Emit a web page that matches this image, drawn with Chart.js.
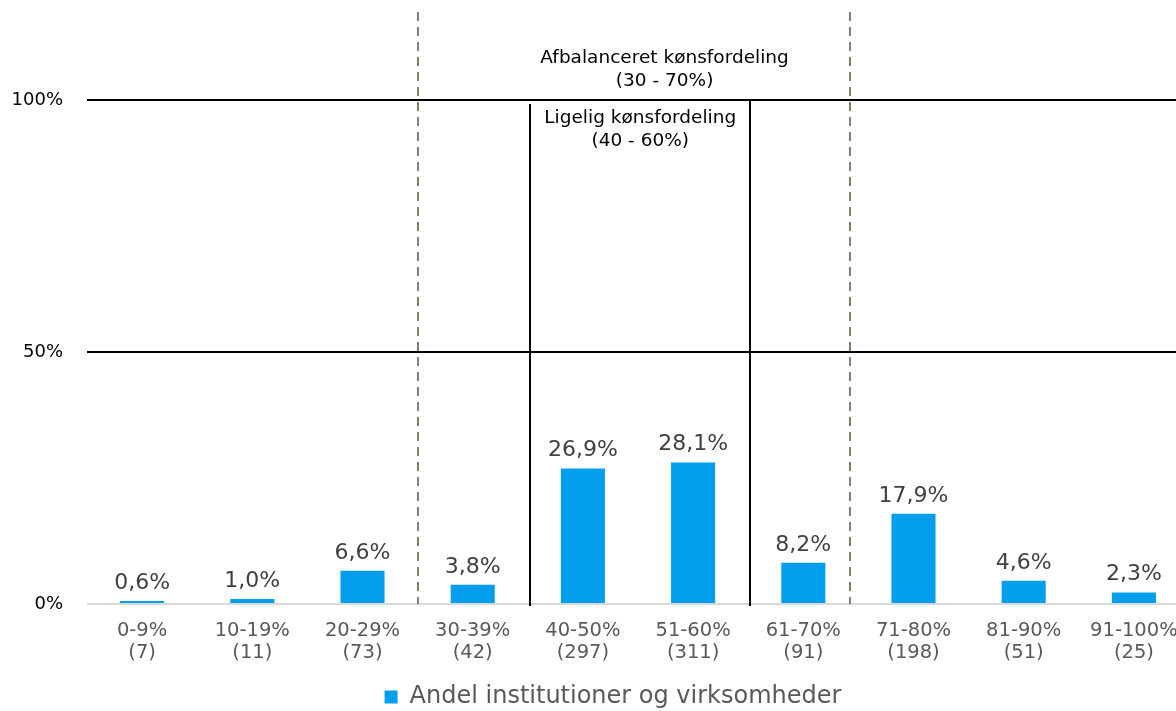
<!DOCTYPE html>
<html><head><meta charset="utf-8">
<script src="https://cdn.jsdelivr.net/npm/chart.js@4/dist/chart.umd.min.js"></script>
<style>html,body{margin:0;padding:0;background:#fff;overflow:hidden}#wrap{width:1222px;height:711px}canvas{display:block}</style>
</head><body><div id="wrap"><canvas id="c" width="1222" height="711"></canvas></div>
<script>
const categories = [['0-9%','(7)'],['10-19%','(11)'],['20-29%','(73)'],['30-39%','(42)'],['40-50%','(297)'],['51-60%','(311)'],['61-70%','(91)'],['71-80%','(198)'],['81-90%','(51)'],['91-100%','(25)']];
const shares = [0.6, 1.0, 6.6, 3.8, 26.9, 28.1, 8.2, 17.9, 4.6, 2.3];
const seriesName = 'Andel institutioner og virksomheder';
const yTicks = [0, 50, 100];
const balancedBounds = [2.5, 6.42];
const equalBounds = [3.52, 5.52];
const balancedText = ['Afbalanceret kønsfordeling', '(30 - 70%)'];
const equalText = ['Ligelig kønsfordeling', '(40 - 60%)'];

const FONT = "'DejaVu Sans', Verdana, sans-serif";

const labelsPlugin = {
  id: 'valLabels',
  afterDatasetsDraw(chart) {
    const ctx = chart.ctx;
    const meta = chart.getDatasetMeta(0);
    ctx.save();
    ctx.font = '22px ' + FONT;
    ctx.fillStyle = '#404040';
    ctx.textAlign = 'center';
    ctx.textBaseline = 'alphabetic';
    meta.data.forEach((el, i) => {
      ctx.fillText(shares[i].toFixed(1).replace('.', ',') + '%', el.x, el.y - 12);
    });
    ctx.restore();
  }
};

const annoPlugin = {
  id: 'anno',
  afterLayout(chart) {
    if (chart.legend) {
      chart.legend.left += 18.5; chart.legend.right += 18.5;
      chart.legend.top += 8; chart.legend.bottom += 8;
    }
  },
  afterDatasetsDraw(chart) {
    const ctx = chart.ctx, x = chart.scales.x, y = chart.scales.y;
    const y0 = y.getPixelForValue(0), y100 = y.getPixelForValue(100);
    ctx.save();
    ctx.strokeStyle = '#85806f';
    ctx.lineWidth = 2;
    ctx.setLineDash([9, 6]);
    balancedBounds.forEach(v => {
      const px = Math.round(x.getPixelForValue(v));
      ctx.beginPath(); ctx.moveTo(px, 12); ctx.lineTo(px, y0); ctx.stroke();
    });
    ctx.setLineDash([]);
    ctx.strokeStyle = '#000';
    ctx.lineWidth = 2;
    equalBounds.forEach((v, i) => {
      const px = Math.round(x.getPixelForValue(v));
      ctx.beginPath(); ctx.moveTo(px, i === 0 ? y100 + 4 : y100); ctx.lineTo(px, y0 + 2); ctx.stroke();
    });
    ctx.fillStyle = '#000';
    ctx.font = '18.5px ' + FONT;
    ctx.textAlign = 'center';
    ctx.textBaseline = 'middle';
    const bc = (x.getPixelForValue(balancedBounds[0]) + x.getPixelForValue(balancedBounds[1])) / 2 + 31;
    ctx.fillText(balancedText[0], bc, 58);
    ctx.fillText(balancedText[1], bc, 81);
    const ec = (x.getPixelForValue(equalBounds[0]) + x.getPixelForValue(equalBounds[1])) / 2;
    ctx.fillText(equalText[0], ec, 118);
    ctx.fillText(equalText[1], ec, 141);
    ctx.restore();
  }
};

new Chart(document.getElementById('c'), {
  type: 'bar',
  data: {
    labels: categories,
    datasets: [{
      label: seriesName,
      data: shares,
      backgroundColor: '#039FEC',
      borderWidth: 0,
      categoryPercentage: 1,
      barPercentage: 0.4
    }]
  },
  options: {
    responsive: false,
    animation: false,
    devicePixelRatio: 1,
    layout: { padding: { top: 100, right: 33, left: 0, bottom: 0 } },
    plugins: {
      legend: {
        position: 'bottom',
        labels: { font: { family: FONT, size: 24 }, color: '#595959', boxWidth: 13, boxHeight: 13, padding: 6 }
      },
      tooltip: { enabled: false }
    },
    scales: {
      x: {
        grid: { display: false, drawTicks: false },
        border: { display: false },
        afterFit(axis) { axis.height = 67; },
        ticks: { font: { family: FONT, size: 19.5, lineHeight: 1.13 }, color: '#595959', padding: 16, maxRotation: 0, autoSkip: false }
      },
      y: {
        min: 0, max: 100,
        afterBuildTicks(axis) { axis.ticks = yTicks.map(v => ({ value: v })); },
        afterFit(axis) { axis.width = 87; },
        grid: {
          color: ctx => ctx.tick && ctx.tick.value === 0 ? '#d9d9d9' : '#000',
          lineWidth: 2,
          drawTicks: false
        },
        border: { display: false },
        ticks: { font: { family: FONT, size: 18 }, color: '#000', padding: 24, callback: v => v + '%' }
      }
    }
  },
  plugins: [labelsPlugin, annoPlugin]
});
</script>
</body></html>
